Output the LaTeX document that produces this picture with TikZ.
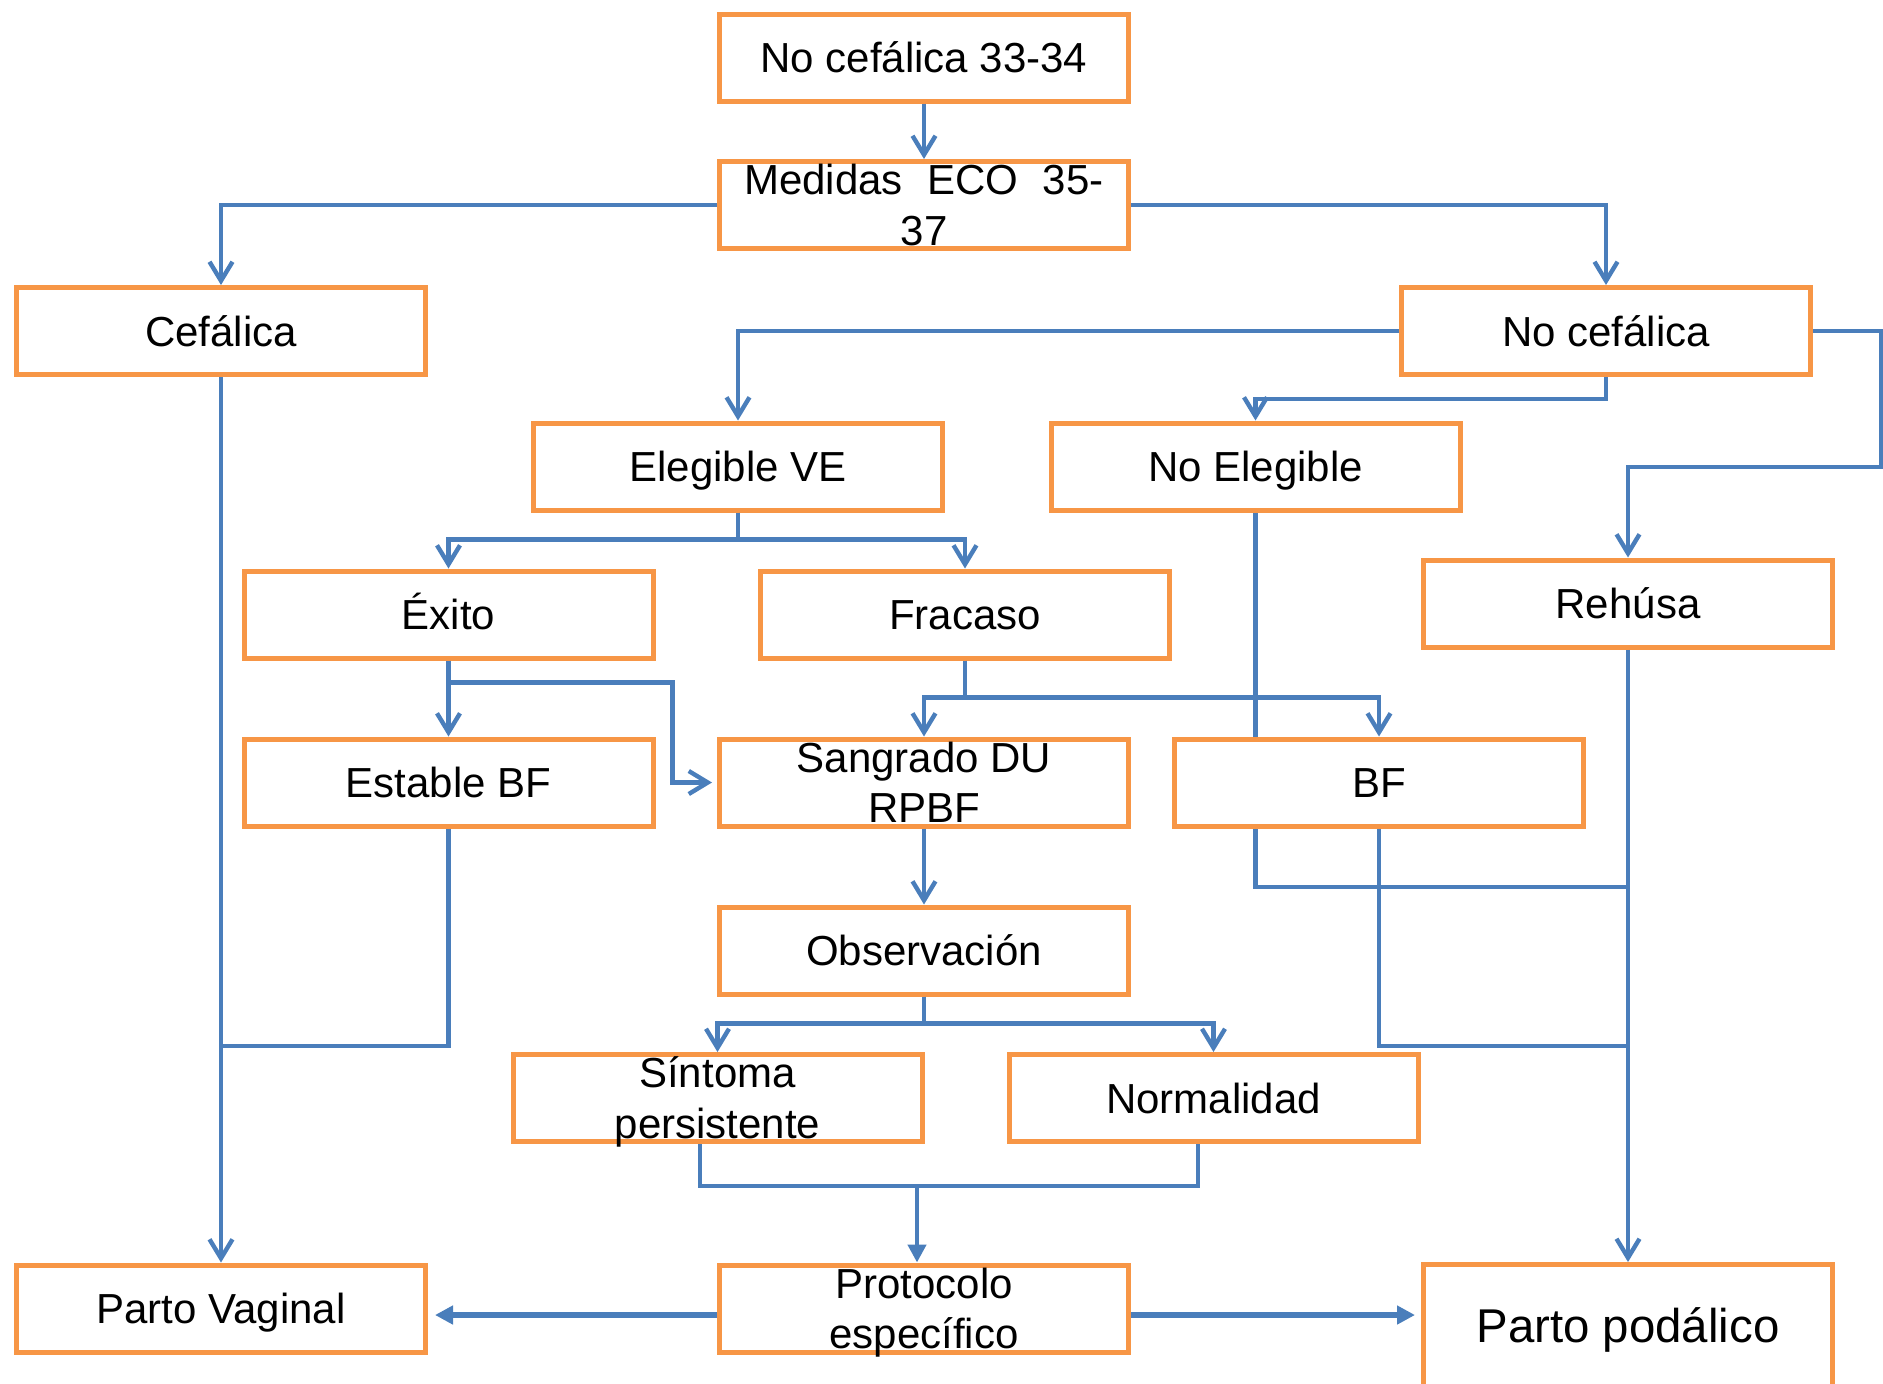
\documentclass[tikz,border=0pt]{standalone}
\usepackage{fontspec}
\setmainfont{Liberation Sans}
\usetikzlibrary{arrows.meta}
\definecolor{boxor}{HTML}{F79646}
\definecolor{lnblue}{HTML}{4A7EBB}
\newcommand\mystrut{\rule[-5.1pt]{0pt}{25.2pt}}
\newcommand\twolines[2]{\mystrut\raisebox{12.6pt}[0pt][0pt]{\begin{tabular}[t]{@{}c@{}}#1\\#2\end{tabular}}}
\pgfdeclarelayer{back}
\pgfsetlayers{back,main}
\begin{document}
\begin{tikzpicture}[x=0.5pt,y=-0.5pt,
  box/.style={draw=boxor,line width=2.5pt,fill=white,minimum width=204.5pt,minimum height=43.5pt,inner sep=0pt,align=center,font=\fontsize{21pt}{25.2pt}\selectfont},
  conn/.style={draw=lnblue,line width=2.2pt},
  barb/.style={-{Straight Barb[length=9.5pt,width=11.5pt]}},
  tri/.style={-{Triangle[length=9pt,width=9pt]}},
]
\useasboundingbox (0,0) rectangle (1883,1383);
\clip (0,0) rectangle (1883,1383);

\node[box] (n1) at (924,57.5) {\mystrut No cefálica 33-34};
\node[box] (med) at (924,205) {\twolines{Medidas\hspace{12.25pt}ECO\hspace{12.25pt}35-}{37}};
\node[box] (cef) at (221,331) {\mystrut Cefálica};
\node[box] (nocef) at (1606,331) {\mystrut No cefálica};
\node[box] (eleg) at (738,466.5) {\mystrut Elegible VE};
\node[box] (noeleg) at (1255.5,466.5) {\mystrut No Elegible};
\node[box] (exito) at (448.5,614.5) {\mystrut Éxito};
\node[box] (fracaso) at (965,614.5) {\mystrut Fracaso};
\node[box] (rehusa) at (1628,603.5) {\mystrut Rehúsa};
\node[box] (estable) at (448.5,782.5) {\mystrut Estable BF};
\node[box] (sangrado) at (924,782.5) {\twolines{Sangrado DU}{RPBF}};
\node[box] (bf) at (1379,782.5) {\mystrut BF};
\node[box] (obs) at (924,950.5) {\mystrut Observación};
\node[box] (sintoma) at (717.5,1098) {\twolines{Síntoma}{persistente}};
\node[box] (normal) at (1213.5,1098) {\mystrut Normalidad};
\node[box] (pvag) at (221,1308.5) {\mystrut Parto Vaginal};
\node[box] (proto) at (924,1308.5) {\twolines{Protocolo}{específico}};
\node[box,minimum height=61.5pt,font=\fontsize{23.7pt}{28pt}\selectfont] (ppod) at (1628,1326) {\rule[-4.5pt]{0pt}{26pt}Parto podálico};

\begin{pgfonlayer}{back}
\draw[conn] (noeleg.south) |- (1627,887);
\end{pgfonlayer}

\draw[conn,barb] (n1) -- (med);
\draw[conn,barb] (med.west) -| (cef.north);
\draw[conn,barb] (med.east) -| (nocef.north);
\draw[conn,barb] (nocef.west) -| (eleg.north);
\draw[conn,barb] (nocef.south) -- ++(0,22) -| (noeleg.north);
\draw[conn,barb] (nocef.east) -| (1881,467) -| (rehusa.north);
\draw[conn,barb] (eleg.south) -- ++(0,27) -| (exito.north);
\draw[conn,barb] (eleg.south) -- ++(0,27) -| (fracaso.north);
\draw[conn,barb] (exito) -- (estable);
\draw[conn,barb,shorten >=2.5pt] (exito.south) -- ++(0,22) -| (672.5,782.5) -- (sangrado.west);
\draw[conn,barb] (fracaso.south) -- ++(0,37) -| (sangrado.north);
\draw[conn,barb] (fracaso.south) -- ++(0,37) -| (bf.north);
\draw[conn,barb] (rehusa) -- (ppod);
\draw[conn] (bf.south) |- (1627,1046);
\draw[conn,barb] (sangrado) -- (obs);
\draw[conn,barb] (obs.south) -- ++(0,27) -| (sintoma.north);
\draw[conn,barb] (obs.south) -- ++(0,27) -| (normal.north);
\draw[conn] (sintoma.south -| 700,0) -- ++(0,42) -| (normal.south -| 1198,0);
\coordinate (jn) at (917,1186);
\draw[conn,tri] (jn) -- (proto.north -| jn);
\draw[conn,barb] (cef) -- (pvag);
\draw[conn] (estable.south) |- (221,1046);
\draw[conn,tri,line width=2.6pt,shorten >=3.5pt] (proto.west |- 0,1315) -- (pvag.east |- 0,1315);
\draw[conn,tri,line width=2.6pt,shorten >=3pt] (proto.east |- 0,1315) -- (ppod.west |- 0,1315);
\end{tikzpicture}
\end{document}
